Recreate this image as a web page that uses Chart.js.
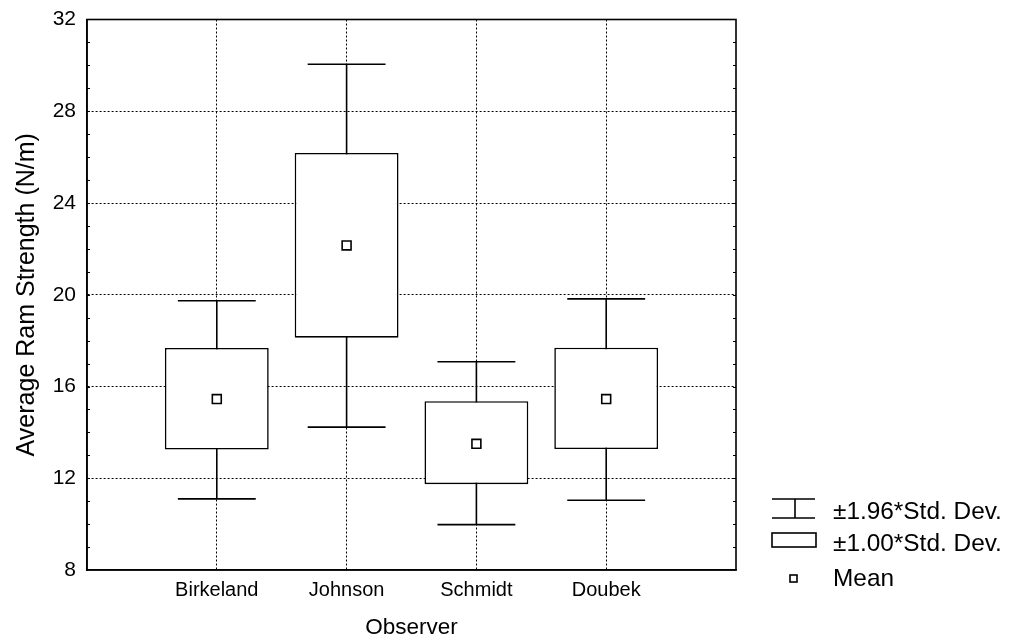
<!DOCTYPE html>
<html>
<head>
<meta charset="utf-8">
<script src="https://cdn.jsdelivr.net/npm/chart.js@4/dist/chart.umd.min.js"></script>
<style>
  html, body { margin: 0; padding: 0; background: #fff; }
  #wrap { width: 1012px; height: 642px; position: relative; }
</style>
</head>
<body>
<div id="wrap"><canvas id="c" width="1012" height="642"></canvas></div>
<script>
// ---- data ----
const categories = ['Birkeland', 'Johnson', 'Schmidt', 'Doubek'];
const means      = [15.45, 22.15, 13.50, 15.45];
const sd1Low     = [13.25, 18.13, 11.74, 13.27];
const sd1High    = [17.68, 26.18, 15.36, 17.69];
const sd196Low   = [11.10, 14.23,  9.98, 11.04];
const sd196High  = [19.74, 30.05, 17.08, 19.82];
const yTicks     = [8, 12, 16, 20, 24, 28, 32];
const legendLabels = ['\u00b11.96*Std. Dev.', '\u00b11.00*Std. Dev.', 'Mean'];

const FONT = "'Liberation Sans', Arial, sans-serif";
const capHalf = 0.3;

const datasets = [];
categories.forEach((c, i) => {
  const x = i + 1;
  const lineBase = { type: 'line', borderColor: '#000', borderWidth: 1.6, pointRadius: 0, fill: false, order: 3 };
  datasets.push(Object.assign({}, lineBase, { data: [{x: x, y: sd196Low[i]}, {x: x, y: sd196High[i]}] }));
  datasets.push(Object.assign({}, lineBase, { data: [{x: x - capHalf, y: sd196High[i]}, {x: x + capHalf, y: sd196High[i]}] }));
  datasets.push(Object.assign({}, lineBase, { data: [{x: x - capHalf, y: sd196Low[i]}, {x: x + capHalf, y: sd196Low[i]}] }));
});
datasets.push({
  type: 'bar',
  data: sd1Low.map((lo, i) => ({ x: i + 1, y: [lo, sd1High[i]] })),
  backgroundColor: '#fff', borderColor: '#000', borderWidth: 1.6, borderSkipped: false,
  barPercentage: 0.8, categoryPercentage: 1.0, grouped: false, order: 2
});
datasets.push({
  type: 'line', showLine: false,
  data: means.map((m, i) => ({ x: i + 1, y: m })),
  pointStyle: 'rect', pointRadius: 6.3, pointBackgroundColor: '#fff',
  pointBorderColor: '#000', pointBorderWidth: 1.6, order: 1
});

const framePlugin = {
  id: 'frame',
  afterDatasetsDraw(chart) {
    const { ctx, chartArea: a, scales } = chart;
    const y = scales.y;
    ctx.save();
    ctx.strokeStyle = '#000';
    ctx.lineWidth = 1.6;
    ctx.strokeRect(a.left, a.top, a.right - a.left, a.bottom - a.top);
    ctx.lineWidth = 1;
    ctx.beginPath();
    for (let v = y.min + 1; v < y.max; v++) {
      const py = Math.round(y.getPixelForValue(v)) + 0.5;
      ctx.moveTo(a.left, py); ctx.lineTo(a.left + 3, py);
      ctx.moveTo(a.right, py); ctx.lineTo(a.right - 3, py);
    }
    ctx.stroke();
    ctx.restore();
  }
};

const legendPlugin = {
  id: 'customLegend',
  afterDraw(chart) {
    const { ctx } = chart;
    ctx.save();
    ctx.strokeStyle = '#000';
    ctx.lineWidth = 1.6;
    // whisker symbol
    ctx.beginPath();
    ctx.moveTo(772, 499); ctx.lineTo(815, 499);
    ctx.moveTo(772, 518); ctx.lineTo(815, 518);
    ctx.moveTo(795, 499); ctx.lineTo(795, 518);
    ctx.stroke();
    // box symbol
    ctx.strokeRect(772, 533, 44, 14);
    // mean symbol
    ctx.strokeRect(790, 575, 7, 7);
    ctx.fillStyle = '#000';
    ctx.font = '24.4px ' + FONT;
    ctx.textBaseline = 'middle';
    ctx.textAlign = 'left';
    ctx.fillText(legendLabels[0], 833, 512);
    ctx.fillText(legendLabels[1], 833, 544);
    ctx.fillText(legendLabels[2], 833, 579);
    ctx.restore();
  }
};

new Chart(document.getElementById('c'), {
  type: 'bar',
  data: { datasets },
  options: {
    responsive: false,
    animation: false,
    layout: { padding: { top: 19.5, right: 276, bottom: 0, left: 0 } },
    plugins: { legend: { display: false }, tooltip: { enabled: false } },
    scales: {
      x: {
        type: 'linear', min: 0, max: 5, offset: false,
        afterBuildTicks(s) { s.ticks = [0, 1, 2, 3, 4, 5].map(v => ({ value: v })); },
        afterFit(s) { s.height = 72; s.paddingLeft = 0; s.paddingRight = 0; },
        ticks: {
          callback: (v) => (v >= 1 && v <= categories.length) ? categories[v - 1] : '',
          color: '#000', font: { family: FONT, size: 20 }, padding: 8, maxRotation: 0, autoSkip: false
        },
        grid: {
          offset: false, drawTicks: false, lineWidth: 1,
          color: (ctx) => (ctx.tick && ctx.tick.value > 0 && ctx.tick.value < 5) ? '#000' : 'rgba(0,0,0,0)'
        },
        border: { display: true, color: '#000', width: 1.6, dash: [2, 2] },
        title: { display: true, text: 'Observer', color: '#000', font: { family: FONT, size: 22.5 }, padding: { top: 0, bottom: 1 } }
      },
      y: {
        type: 'linear', min: 8, max: 32,
        afterBuildTicks(s) { s.ticks = yTicks.map(v => ({ value: v })); },
        afterFit(s) { s.width = 87; s.paddingTop = 0; s.paddingBottom = 0; },
        ticks: { color: '#000', font: { family: FONT, size: 21 }, padding: 11 },
        grid: {
          drawTicks: false, lineWidth: 1,
          color: (ctx) => (ctx.tick && ctx.tick.value > 8 && ctx.tick.value < 32) ? '#000' : 'rgba(0,0,0,0)'
        },
        border: { display: true, color: '#000', width: 1.6, dash: [2, 2] },
        title: { display: true, text: 'Average Ram Strength (N/m)', color: '#000', font: { family: FONT, size: 25 }, padding: { top: 12, bottom: 0 } }
      }
    }
  },
  plugins: [framePlugin, legendPlugin]
});
</script>
</body>
</html>
